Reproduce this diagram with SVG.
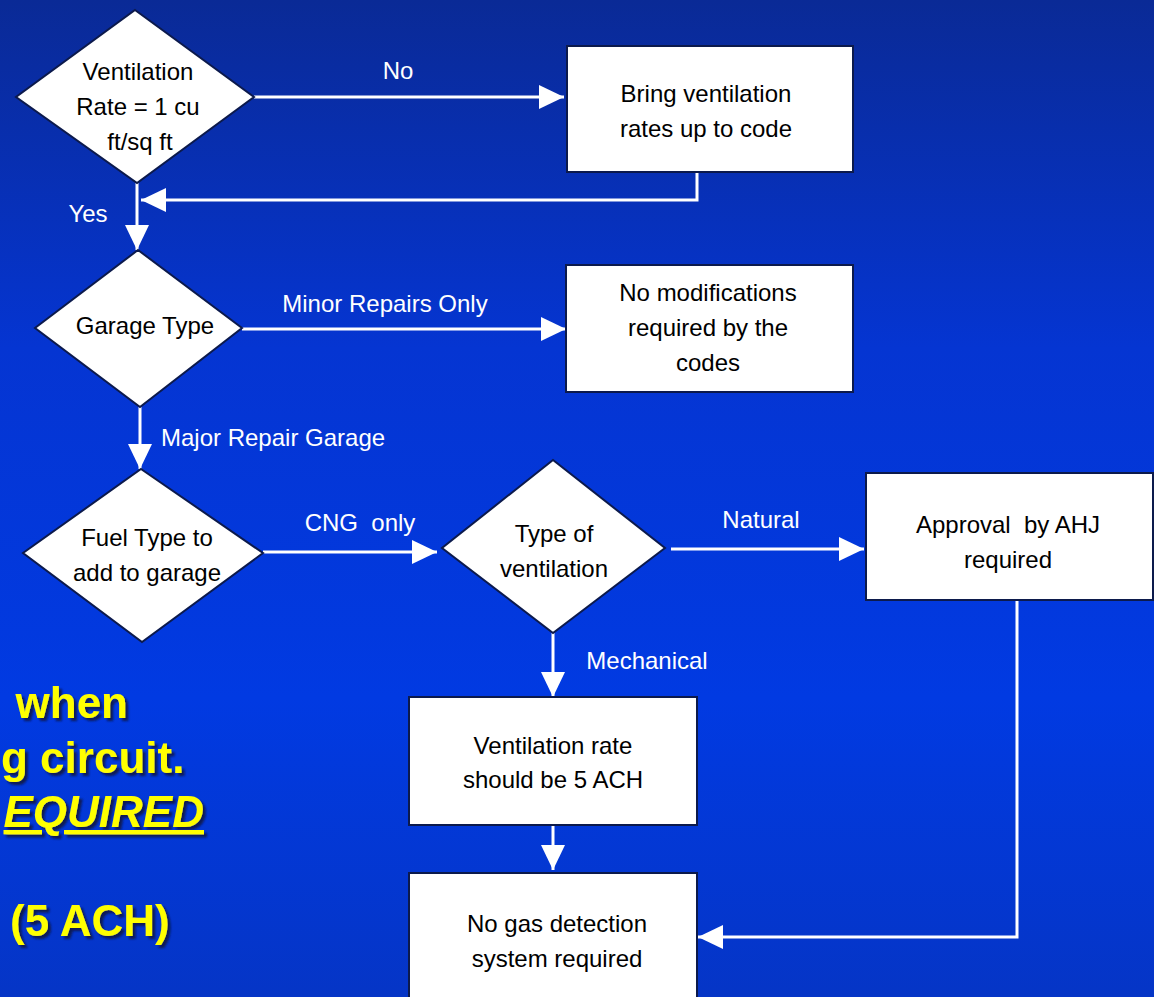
<svg xmlns="http://www.w3.org/2000/svg" width="1154" height="997" viewBox="0 0 1154 997">
<defs>
<linearGradient id="bg" x1="0" y1="0" x2="0" y2="1">
<stop offset="0" stop-color="#0a2a96"/>
<stop offset="0.35" stop-color="#0535d2"/>
<stop offset="0.7" stop-color="#013ae2"/>
<stop offset="1" stop-color="#0535c6"/>
</linearGradient>
<marker id="ah" markerUnits="userSpaceOnUse" markerWidth="26" markerHeight="26" refX="25" refY="12" orient="auto" viewBox="0 0 26 24">
<path d="M0,0 L25,12 L0,24 z" fill="#ffffff"/>
</marker>
<filter id="sh" x="-10%" y="-10%" width="130%" height="140%">
<feDropShadow dx="3" dy="3" stdDeviation="0.8" flood-color="#101848" flood-opacity="0.9"/>
</filter>
</defs>
<style>
.shape{fill:#ffffff;stroke:#0c1a4c;stroke-width:2}
.nt{font-family:"Liberation Sans",Arial,sans-serif;font-size:24px;fill:#000000;text-anchor:middle;white-space:pre}
.lbl{font-family:"Liberation Sans",Arial,sans-serif;font-size:24px;fill:#ffffff;text-anchor:middle;white-space:pre}
.lbl.start{text-anchor:start}
.conn{fill:none;stroke:#ffffff;stroke-width:3}
.yel{font-family:"Liberation Sans",Arial,sans-serif;font-size:44px;font-weight:bold;fill:#ffff00;filter:url(#sh)}
</style>
<rect x="0" y="0" width="1154" height="997" fill="url(#bg)"/>

<g id="side-notes">
<text class="yel" x="128" y="718" text-anchor="end">when</text>
<text class="yel" x="1" y="773">g circuit.</text>
<text class="yel" x="204" y="827" text-anchor="end" font-style="italic" text-decoration="underline">EQUIRED</text>
<text class="yel" x="10" y="936">(5 ACH)</text>
</g>

<g id="connectors">
<path class="conn" d="M254,97 L564,97" marker-end="url(#ah)"/>
<path class="conn" d="M697,172 L697,200 L141,200" marker-end="url(#ah)"/>
<path class="conn" d="M137,183 L137,250" marker-end="url(#ah)"/>
<path class="conn" d="M242,329 L566,329" marker-end="url(#ah)"/>
<path class="conn" d="M140,407 L140,469" marker-end="url(#ah)"/>
<path class="conn" d="M263,552 L437,552" marker-end="url(#ah)"/>
<path class="conn" d="M671,549 L864,549" marker-end="url(#ah)"/>
<path class="conn" d="M553,633 L553,697" marker-end="url(#ah)"/>
<path class="conn" d="M553,825 L553,870" marker-end="url(#ah)"/>
<path class="conn" d="M1017,600 L1017,937 L698,937" marker-end="url(#ah)"/>
<text class="lbl" x="398" y="79">No</text>
<text class="lbl" x="88" y="222">Yes</text>
<text class="lbl" x="385" y="312">Minor Repairs Only</text>
<text class="lbl start" x="161" y="446">Major Repair Garage</text>
<text class="lbl" x="360" y="531">CNG  only</text>
<text class="lbl" x="761" y="528">Natural</text>
<text class="lbl" x="647" y="669">Mechanical</text>
</g>

<g id="d-ventilation-rate">
<polygon class="shape" points="135,10 254,97 137,183 16,97"/>
<text class="nt" x="138" y="80">Ventilation</text>
<text class="nt" x="138" y="115">Rate = 1 cu</text>
<text class="nt" x="140" y="150">ft/sq ft</text>
</g>

<g id="b-bring-up">
<rect class="shape" x="567" y="46" width="286" height="126"/>
<text class="nt" x="706" y="102">Bring ventilation</text>
<text class="nt" x="706" y="137">rates up to code</text>
</g>

<g id="d-garage-type">
<polygon class="shape" points="138,250 242,328 140,407 35,328"/>
<text class="nt" x="145" y="334">Garage Type</text>
</g>

<g id="b-no-mods">
<rect class="shape" x="566" y="265" width="287" height="127"/>
<text class="nt" x="708" y="301">No modifications</text>
<text class="nt" x="708" y="336">required by the</text>
<text class="nt" x="708" y="371">codes</text>
</g>

<g id="d-fuel-type">
<polygon class="shape" points="141,469 263,553 142,642 23,553"/>
<text class="nt" x="147" y="546">Fuel Type to</text>
<text class="nt" x="147" y="581">add to garage</text>
</g>

<g id="d-type-ventilation">
<polygon class="shape" points="553,460 665,548 553,633 442,548"/>
<text class="nt" x="554" y="542">Type of</text>
<text class="nt" x="554" y="577">ventilation</text>
</g>

<g id="b-approval">
<rect class="shape" x="866" y="473" width="287" height="127"/>
<text class="nt" x="1008" y="533">Approval  by AHJ</text>
<text class="nt" x="1008" y="568">required</text>
</g>

<g id="b-rate-5ach">
<rect class="shape" x="409" y="697" width="288" height="128"/>
<text class="nt" x="553" y="754">Ventilation rate</text>
<text class="nt" x="553" y="788">should be 5 ACH</text>
</g>

<g id="b-no-gas">
<rect class="shape" x="409" y="873" width="288" height="130"/>
<text class="nt" x="557" y="932">No gas detection</text>
<text class="nt" x="557" y="967">system required</text>
</g>
</svg>
